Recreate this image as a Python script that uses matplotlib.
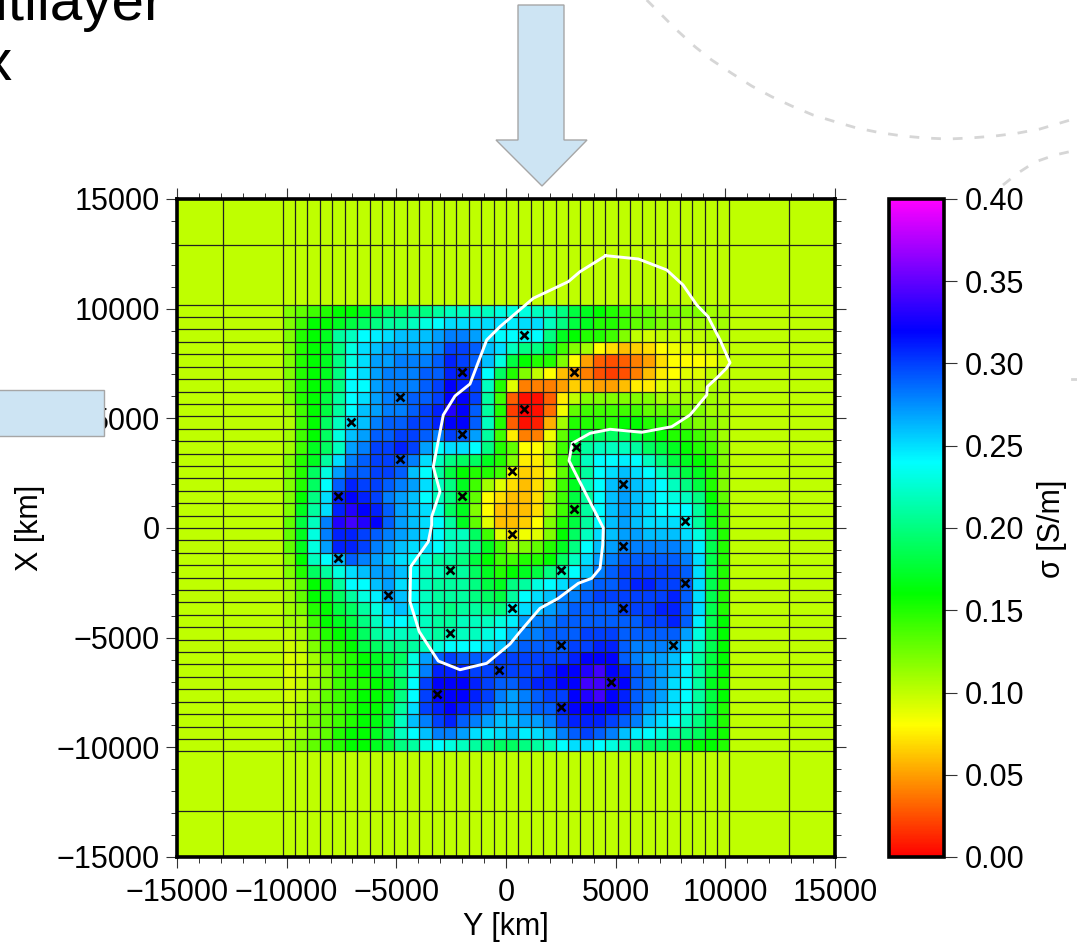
import numpy as np
import matplotlib
matplotlib.use("Agg")
import matplotlib.pyplot as plt
from matplotlib.colors import LinearSegmentedColormap
from matplotlib.lines import Line2D
from matplotlib.patches import Polygon, Rectangle
from matplotlib.ticker import MultipleLocator, FuncFormatter
from matplotlib.transforms import Affine2D

# conductivity of the 36 x 36 core cells in 0.01 S/m, first row = north edge
core_rows = [
 [12,13,14,15,16,16,17,18,19,19,20,20,21,22,22,22,22,23, 23,23,22,22,20,18,17,16,15,14,13,13,12,12,12,12,11,11],
 [12,14,16,16,17,18,19,20,21,21,22,23,24,25,25,25,25,25, 24.5,25,25,22,20,18,17,15,15,14,13,13,12,12,11,11,11,11],
 [12,15,16,17,21,22,24,24.5,25,26,26,26,27,28,28,27,25,24, 24,24,24,20,17,16,15,15,14,12,10,9.5,10,10,10,10,10.5,10.5],
 [12,15,16,17,20,23,25,26,27,27,27,27,28,30,30,29,26,25, 22,20,20,18,14,12,11,8,7,6,6.5,7,8,8.5,9,9,9.5,10],
 [12,15,16,17,20,23,25,27,27,28,28,28,29,31,30,29,26,23, 18,16,15,15,12,8,5,3,2.5,3,4,5,7,8,8,8,8.5,9.5],
 [12,15,16,17,20,24,25,27,28,28,28,29,29,31,31,30,24,19, 15,12,10,8,6,5,4,2.5,2,2.5,4,6,7.5,8,9,9,10,10],
 [12,15,16,17,20,24,24,27,28,28,28,29,30,32,31,30,22,15, 9,4,4,4,5,6.5,6,5,5,6,7.5,7.5,9,9.5,10,10,10.5,10.5],
 [12,15,16,18,21,24,25,27,28,28,29,29,30,32,32,30,21,14, 3,0.5,0.5,3,7.5,10,12,12,12,12,12,12,11,11,11,11,11,10.5],
 [11,14,16,18,21,24,26,27,28,28,29,30,31,33,32,29,21,15, 2,0,0.5,3.5,8.5,13,14,14,14,14,14,13,13,13,12,12,11,11],
 [10.5,14,16,19,22,25,26,28,29,29,30,30,31,32,32,29,22,15, 3,0.5,1,5.5,11,15,15,15,15,16,16,15,15,14,13,12,12,11],
 [11,14,16,19,23,26,27,29,29,30,30,29,28,30,29,27,21,14, 7.5,4,4,8.5,13,17,19,19,19,19,18,17,16,15,15,14,13,11],
 [11,14,17,19,22,27,28,30,30,31,30,27,24,25,25,24,20,15, 13,8,8,10,14,18,21,22,22,22,21,19,18,17,16,15,14,12],
 [12,15,17,21,25,28,29,30,30,29,28,25,22,20,19,19,17,15, 12,7.5,7.5,10,14,18,22,24,24,24.5,24,22,20,18,17,16,15,12],
 [12,15,19,23,27,29,29,30,30,29,26,24,21,18,16,15,15,14, 8,6.5,7,9,13,17,21,24,25,26,25,24,22,20,18,17,15,12],
 [12,15,19,24,29,31,30,30,29,28,27,25,22,20,17,14,11,9, 7,6,7,10,14,17,22,24,26,27,26,25,24,22,20,18,15,12],
 [12,16,20,25,31,32,31,30,28,27,26,24,22,20,17,13,8,7, 6,6,7,11,14,18,21,24,26,27,26,25,24,23,22,20,16,13],
 [12,17,21,25,31,33,32,31,29,27,26,25,23,19,17,12,8,6, 6,6,7,11,14,17,21,24,26,27,26,25,24,24,24,21,17,14],
 [13,18,22,28,33,34,33,32,29,27,26,25,24,21,17,13,9,6, 6,6.5,8,12,15,18,21,24,26,27,26,25,25,25,24,21,17,14],
 [13,17,23,28,31,31,30,29,28,27,26,25,24,22,22,19,14,9, 7.5,8.5,9,12,16,19,22,25,26,27,27,26,26,26,25,23,19,15],
 [13,17,23,27,31,31,30,28,27,26,25,25,24,22,21,20,17,14, 11,12,13,15,17,20,24,26,27,28,28,28,28,28,27,24.5,18.5,15],
 [12,16,22,24,26,29,28,27,26,25,24,23,21,21,20,18,16,14, 14,15,15,16,19,22,25,27,28,29,29,29,29,29,28,25,18.5,15],
 [12,15,19,21,23,25,26,27,27,26,24,22,22,21,21,19,17,15, 16,17,18,20,22,24,26,28,29,30,30,30,30,30,29,25,18.5,15],
 [11,13,16,17,21,24,24,26,27,25,24,22,21,21,21,20,18,17, 20,21,23,24,25,27,28,29,29,30,31,31,30,30,29,25,18.5,15],
 [11,13,16,17,19,21,23,24.5,27,26,24,22,21,21,21,20,19,18, 21,24,25,26,28,28,29,30,30,30,30,30,30,31,29,25,18.5,15],
 [11,12,15,16,18,19,21,23,25,26,24,22,21,20,21,21,20,20, 24,25,26,27,28,29,29,29,29,30,30,30,31,31,29,25,18.5,15],
 [11,11,14,16,17,18,20,22,24.5,24,23,22,21,21,22,22,22,23, 24.5,27,28,28,29,29,29,29,29,29,29,30,30,31,29,24.5,18.5,16],
 [10,11,13,15,16,17,19,21,22,22,22,22,21,22,22,22,23,24, 26,28,28,29,29,29,30,30,30,29,29,29,29,29,27,23,18.5,16],
 [9.5,10,12,14,15,16,18,19,20,20,21,22,23,24,24,24,25,26, 28,29,29,29,29,30,30,31,31,29,28,28,28,27,25,22,18.5,16],
 [9.2,9.6,11,13,14,15,16,17,18,19,23,27,29,30,29,29,29,30, 30,30,30,30,30,31,32,32,32,29,28,27,27,26,24,21,18,16],
 [9.2,9.6,10.5,12,14,15,16,17,18,20,23,28,31,31,31,30,30,30, 30,30,30,31,32,32,33,34,32,31,29,28,27,26,24.5,21,18,16],
 [9.2,9.8,11,12,14,15,15,16,17,19,24,30,32,32,32,31,30,29, 29,30,31,31,32,32,34,34,33,32,29,28,27,25,24,21,17,15.5],
 [9.5,10,11,13,14,15,16,16,17,20,24,30,32,32,32,31,30,28, 27,28,29,30,30,32,33,34,32,31,29,28,27,25,24,21,18,16],
 [10,11,12,13,14,15,16,16,18,21,25,30,31,32,31,30,29,27, 27,28,29,29,31,32,32,32,32,31,29,27,26,25,23,21,18,15],
 [10,11,12,13,14,15,16,16.5,18,22,26,28,30,31,29,28,27,26, 26,27,27,28,30,31,31,31,30,29,28,26,25,24,22,20,18,15],
 [10,11,12,13,15,16,16,17,19,22,24,26,28,28,27,25,24.5,25, 26,24.5,25,26,28,29,30,29,28,26,24.5,24,23,21,20,19,17,15.5],
 [11,12,13,14,15,16,16,17,18,20,21,23,24,23,22,21,20,19, 19,20,21,22,24,25,25,24,23,22,20,19,19,18,17,16,16,15],
]
background_sigma = 10  # 0.01 S/m, two outer mesh layers

# outer mesh edges and half width of the refined core (km axis units)
outer_edges = [15000, 12905]
core_half_width = 10183

# observation sites
site_y = [821,-2006,3101,-4833,821,-7067,-2006,-4833,3192,274,-2006,-7660,5334,3101,274,-7660,
          5334,8161,-2553,2508,8161,-5380,274,5334,-2553,2508,7614,-319,4787,-3146,2508]
site_x = [8800,7113,7113,5973,5426,4833,4286,3146,3693,2599,1459,1459,2006,866,-274,-1368,
          -821,319,-1915,-1915,-2508,-3055,-3647,-3647,-4787,-5334,-5334,-6474,-7021,-7568,-8161]

# island outline
outline_y = [4546,6033,7328,8071,8696,9211,9758,10214,10064,9608,9179,9152,8390,7556,6188,4742,3830,
             3023,2873,4437,4410,4286,3908,3297,2385,1550,638,182,-880,-2098,-3087,-3954,-4378,-4346,
             -3543,-3388,-3388,-3010,-3315,-2859,-2326,-1642,-880,-274,1245,2841,3374,4546]
outline_x = [12417,12266,11765,11081,10169,9635,8573,7538,7296,6840,6443,6065,5153,4619,4364,4501,4318,
             3862,3069,0,-775,-1838,-2294,-2522,-3206,-3662,-4729,-5290,-6170,-6462,-6065,-4729,-3361,-1765,
             -625,137,515,1655,2795,5153,6019,6566,8573,9179,10474,11231,11687,12417]

axis_ticks = [-15000,-10000,-5000,0,5000,10000,15000]
colorbar_ticks = [0.00,0.05,0.10,0.15,0.20,0.25,0.30,0.35,0.40]
rainbow = ["#ff0000","#ffff00","#00ff00","#00ffff","#0000ff","#ff00ff"]

W, H = 1077, 944
plt.rcParams["font.family"] = ["Liberation Sans", "DejaVu Sans"]
plt.rcParams["font.size"] = 22
fig = plt.figure(figsize=(W/100, H/100), dpi=100, facecolor="white")
px = Affine2D().scale(1/W, -1/H).translate(0, 1) + fig.transFigure

def axes_px(left, top, right, bottom):
    return fig.add_axes([left/W, 1-bottom/H, (right-left)/W, (bottom-top)/H])

ax = axes_px(177, 199, 835, 857)
cax = axes_px(889, 199, 944, 857)

core_edges = np.linspace(-core_half_width, core_half_width, 37)
y_edges = np.r_[-outer_edges[0], -outer_edges[1], core_edges, outer_edges[1], outer_edges[0]]
x_edges = y_edges[::-1]
sigma = np.pad(np.array(core_rows, dtype=float), 2, constant_values=background_sigma)/100

cmap = LinearSegmentedColormap.from_list("sigma", rainbow, N=512)
mesh = ax.pcolormesh(y_edges, x_edges, sigma, cmap=cmap, vmin=0, vmax=0.40,
                     edgecolors="none", antialiased=False)
ax.vlines(y_edges[1:-1], -15000, 15000, color="#222222", lw=0.9, zorder=2)
ax.hlines(x_edges[1:-1], -15000, 15000, color="#222222", lw=0.9, zorder=2)
ax.plot(outline_y, outline_x, color="white", lw=2.1, solid_joinstyle="round", zorder=4)
ax.plot(site_y, site_x, ls="none", marker="x", ms=5.5, mew=1.9, color="black", zorder=5)

ax.set_xlim(-15000, 15000)
ax.set_ylim(-15000, 15000)
ax.set_xticks(axis_ticks)
ax.set_yticks(axis_ticks)
ax.xaxis.set_minor_locator(MultipleLocator(1000))
ax.yaxis.set_minor_locator(MultipleLocator(1000))
ax.tick_params(axis="x", which="major", direction="out", length=8, width=0.8, color="#333333",
               top=True, pad=7)
ax.tick_params(axis="y", which="major", direction="out", length=8, width=0.8, color="#333333",
               right=True, pad=4.5)
ax.tick_params(which="minor", direction="out", length=4, width=0.7, color="#333333",
               top=True, right=True)
ax.xaxis.set_major_formatter(FuncFormatter(lambda v, p: f"{v:.0f}".replace("-", "\u2212")))
ax.yaxis.set_major_formatter(FuncFormatter(lambda v, p: f"{v:.0f}".replace("-", "\u2212")))
ax.set_xlabel("Y [km]", va="center")
ax.set_ylabel("X [km]", va="center")
ax.xaxis.set_label_coords(0.5, -0.106)
ax.yaxis.set_label_coords(-0.223, 0.5)
for s in ax.spines.values():
    s.set_linewidth(2.6)

cb = fig.colorbar(mesh, cax=cax, ticks=colorbar_ticks)
cb.ax.yaxis.set_major_formatter(FuncFormatter(lambda v, p: f"{v:.2f}"))
cb.ax.tick_params(direction="out", length=9, width=0.8, color="#333333", pad=6)
cb.outline.set_linewidth(2.6)
fig.text(1052/W, 1-529/H, "\u03c3 [S/m]", rotation=90, ha="center", va="center")

# slide decorations behind and around the plot
arrow_face, arrow_edge = "#cde4f3", "#a6a6a6"
fig.add_artist(Polygon([(518,5),(564,5),(564,140),(587,140),(542,186),(496,140),(518,140)], closed=True,
                       fc=arrow_face, ec=arrow_edge, lw=1, transform=px, zorder=10))
fig.add_artist(Rectangle((-5,390), 108.5, 46, fc=arrow_face, ec=arrow_edge, lw=1, transform=px, zorder=10))
arc1 = [(646.7,0),(660,13.3),(676.7,30),(695,46.7),(711.7,60),(731.7,73.3),(751.7,86),(771.7,96.7),(791.7,106),
        (813,115),(835,121.7),(856.7,128),(880,132.7),(903,136),(925,138),(948,139),(970,138),(995,136),
        (1016.7,133.3),(1040,129),(1077,118)]
arc2 = [(1003,185),(1018,173),(1035,162),(1055,155),(1077,150)]
arc3 = [(1072,379),(1077,379)]
for arc in (arc1, arc2, arc3):
    xs, ys = zip(*arc)
    line = Line2D(xs, ys, color="#d6d6d6", lw=2.0, transform=px, zorder=0)
    if arc is not arc3:
        line.set_dashes((3.5, 4.3))
    fig.add_artist(line)
fig.text(164/W, 1-20/H, "Multilayer", fontsize=42, ha="right", va="baseline", color="black", zorder=0)
fig.text(12/W, 1-80/H, "x", fontsize=42, ha="right", va="baseline", color="black", zorder=0)

fig.savefig("out.png", dpi=100, facecolor="white")
